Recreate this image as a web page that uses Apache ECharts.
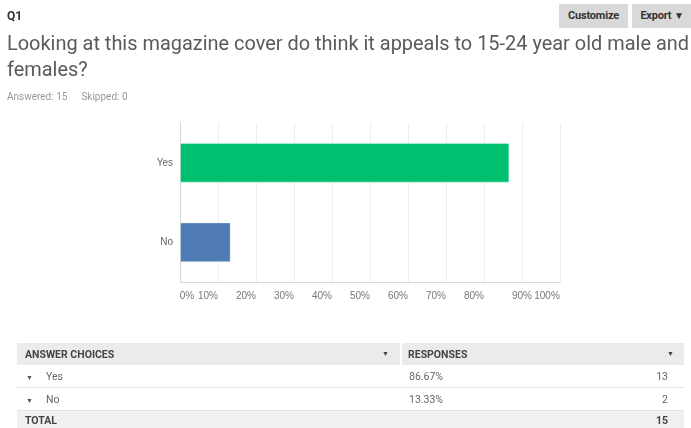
<!DOCTYPE html>
<html>
<head>
<meta charset="utf-8">
<script src="https://cdn.jsdelivr.net/npm/echarts@6/dist/echarts.min.js"></script>
<style>
  html, body { margin: 0; padding: 0; background: #fff; }
  #page { position: relative; width: 691px; height: 428px; overflow: hidden; font-family: Roboto, "Liberation Sans", sans-serif; }
  .q { position: absolute; left: 7px; top: 9px; font-size: 12px; font-weight: bold; color: #333; }
  .btn { position: absolute; top: 4px; height: 24px; line-height: 24px; background: #d9d9d9; color: #333; font-size: 11px; font-weight: bold; text-align: center; letter-spacing: -0.2px; }
  .title { position: absolute; left: 7px; top: 30px; font-size: 21px; line-height: 26px; color: #5a5a5a; white-space: nowrap; transform-origin: 0 0; }
  .meta { position: absolute; left: 7px; top: 91px; font-size: 10px; color: #999; }
  .meta span { margin-right: 14px; }
  #chart { position: absolute; left: 0; top: 0; width: 691px; height: 428px; }
  table { position: absolute; left: 17px; top: 343px; width: 667px; border-collapse: collapse; font-size: 10.5px; color: #666; }
  td { height: 22px; padding: 0; }
  tr.head td { background: #ebebeb; font-weight: bold; color: #444; }
  tr.tot td { background: #f0f0f0; font-weight: bold; color: #444; height: 19px; }
  tr.row td { border-bottom: 1px solid #e3e3e3; }
  .arr { font-size: 7px; color: #555; }
</style>
</head>
<body>
<div id="page">
  <div id="chart"></div>
  <div class="q">Q1</div>
  <div class="btn" style="left:559px;width:69px;">Customize</div>
  <div class="btn" style="left:632px;width:60px;">Export <span style="font-size:10px">&#9660;</span></div>
  <div class="title" id="title"><span id="line1">Looking at this magazine cover do think it appeals to 15-24 year old male and</span><br>females?</div>
  <div class="meta"><span>Answered: 15</span><span>Skipped: 0</span></div>
  <table id="tbl"></table>
</div>
<script>
const categories = ['Yes', 'No']
const percents = [86.67, 13.33]
const counts = [13, 2]
const barColors = ['#00bf6f', '#507cb6']
const tickLabels = ['0%', '10%', '20%', '30%', '40%', '50%', '60%', '70%', '80%', '90%', '100%']

// squeeze the title so line one spans like the reference
const line1 = document.getElementById('line1')
const w = line1.getBoundingClientRect().width
document.getElementById('title').style.transform = 'scaleX(' + (682 / w) + ')'

// table under the chart
let html = '<tr class="head"><td style="padding-left:8px;width:357px">ANSWER CHOICES</td>' +
  '<td style="width:18px;text-align:left" class="arr">&#9660;</td>' +
  '<td style="padding-left:6px;border-left:2px solid #fff">RESPONSES</td>' +
  '<td style="text-align:right;padding-right:10px" class="arr">&#9660;</td></tr>'
categories.forEach((c, i) => {
  html += '<tr class="row"><td style="padding-left:9px"><span class="arr">&#9660;</span>&nbsp;&nbsp;&nbsp;&nbsp;&nbsp;' + c + '</td><td></td>' +
    '<td style="padding-left:8px">' + percents[i].toFixed(2) + '%</td>' +
    '<td style="text-align:right;padding-right:16px">' + counts[i] + '</td></tr>'
})
const total = counts.reduce((a, b) => a + b, 0)
html += '<tr class="tot"><td style="padding-left:8px">TOTAL</td><td></td><td></td>' +
  '<td style="text-align:right;padding-right:16px">' + total + '</td></tr>'
document.getElementById('tbl').innerHTML = html

// tick label placement: first sits right of its line, 90% centred, the rest end at the line
const labelFont = '10px "Liberation Sans"'
const ctx = document.createElement('canvas').getContext('2d')
ctx.font = labelFont
const tickFormat = (v) => {
  const i = Math.round(v / 10)
  const t = tickLabels[i]
  const tw = Math.round(ctx.measureText(t).width)
  if (i === 0) return '{g' + tw + '|}{v|' + t + '}'
  if (i === 9) return '{v|' + t + '}'
  return '{v|' + t + '}{g' + tw + '|}'
}
const rich = { v: { color: '#777', fontSize: 10, fontFamily: 'Liberation Sans', lineHeight: 12 } }
for (let k = 5; k <= 30; k++) rich['g' + k] = { width: k, fontSize: 10, lineHeight: 12 }

const myChart = echarts.init(document.getElementById('chart'))
const option = {
  animation: false,
  grid: { left: 180, right: 131, top: 123, bottom: 146 },
  xAxis: {
    type: 'value',
    min: 0,
    max: 100,
    interval: 10,
    axisLine: { show: true, lineStyle: { color: '#d9d9d9' } },
    axisTick: { show: false },
    splitLine: { show: true, lineStyle: { color: '#eeeeee' } },
    axisLabel: {
      formatter: tickFormat,
      rich: rich,
      fontSize: 10,
      lineHeight: 12,
      margin: 8,
      align: 'center'
    }
  },
  yAxis: {
    type: 'category',
    data: categories,
    inverse: true,
    axisLine: { show: true, lineStyle: { color: '#d9d9d9' } },
    axisTick: { show: false },
    splitLine: { show: false },
    axisLabel: { color: '#666', fontSize: 10, fontFamily: 'Liberation Sans, Arial, sans-serif', margin: 7 }
  },
  series: [
    {
      type: 'bar',
      barWidth: '50%',
      data: percents.map((v, i) => ({ value: v, itemStyle: { color: barColors[i] } })),
      itemStyle: { borderColor: 'rgba(255,255,255,0.35)', borderWidth: 1 }
    }
  ]
}
myChart.setOption(option)
</script>
</body>
</html>
